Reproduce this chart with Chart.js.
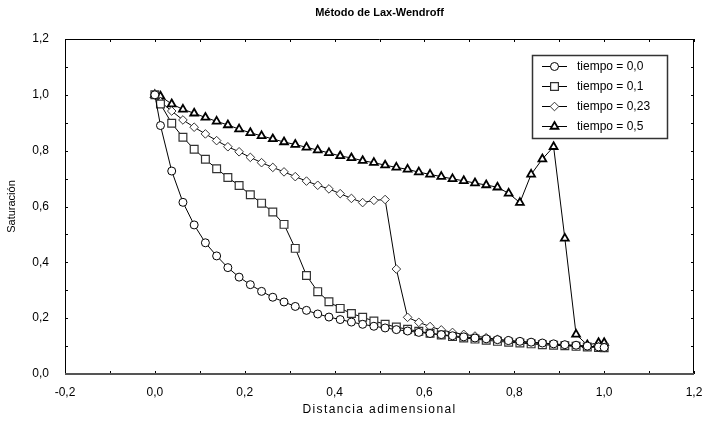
<!DOCTYPE html>
<html>
<head>
<meta charset="utf-8">
<title>Método de Lax-Wendroff</title>
<script src="https://cdn.jsdelivr.net/npm/chart.js@4.4.1/dist/chart.umd.min.js"></script>
<style>
  html, body { margin: 0; padding: 0; background: #fff; }
  #wrap { width: 708px; height: 427px; }
</style>
</head>
<body>
<div id="wrap"><canvas id="satChart" width="708" height="427"></canvas></div>
<script>
// grid nodes (boundaries + cell centres)
const xPos = [
  0, 0.0125, 0.0375, 0.0625, 0.0875, 0.1125, 0.1375, 0.1625, 0.1875, 0.2125,
  0.2375, 0.2625, 0.2875, 0.3125, 0.3375, 0.3625, 0.3875, 0.4125, 0.4375, 0.4625,
  0.4875, 0.5125, 0.5375, 0.5625, 0.5875, 0.6125, 0.6375, 0.6625, 0.6875, 0.7125,
  0.7375, 0.7625, 0.7875, 0.8125, 0.8375, 0.8625, 0.8875, 0.9125, 0.9375, 0.9625,
  0.9875, 1.0
];

const sat00 = [
  1.0, 0.890, 0.727, 0.615, 0.534, 0.470, 0.423, 0.381, 0.347, 0.320,
  0.296, 0.275, 0.258, 0.242, 0.228, 0.215, 0.204, 0.195, 0.186, 0.178,
  0.171, 0.165, 0.159, 0.154, 0.149, 0.145, 0.141, 0.137, 0.133, 0.129,
  0.126, 0.123, 0.120, 0.117, 0.114, 0.111, 0.108, 0.105, 0.103, 0.100,
  0.097, 0.095
];

const sat01 = [
  1.0, 0.967, 0.898, 0.848, 0.805, 0.769, 0.735, 0.704, 0.675, 0.642,
  0.612, 0.580, 0.536, 0.450, 0.353, 0.295, 0.259, 0.235, 0.217, 0.203,
  0.190, 0.178, 0.168, 0.160, 0.153, 0.146, 0.140, 0.134, 0.129, 0.125,
  0.121, 0.117, 0.114, 0.111, 0.108, 0.105, 0.103, 0.101, 0.099, 0.097,
  0.095, 0.094
];

const sat023 = [
  1.0, 0.975, 0.942, 0.910, 0.884, 0.860, 0.836, 0.814, 0.796, 0.776,
  0.757, 0.740, 0.724, 0.707, 0.691, 0.676, 0.663, 0.646, 0.629, 0.614,
  0.622, 0.625, 0.376, 0.203, 0.185, 0.170, 0.158, 0.149, 0.142, 0.136,
  0.130, 0.124, 0.119, 0.115, 0.112, 0.109, 0.106, 0.103, 0.101, 0.099,
  0.097, 0.095
];

const sat05 = [
  1.0, 0.995, 0.967, 0.948, 0.934, 0.919, 0.905, 0.892, 0.877, 0.864,
  0.853, 0.842, 0.831, 0.822, 0.812, 0.802, 0.792, 0.781, 0.774, 0.764,
  0.757, 0.748, 0.740, 0.733, 0.723, 0.715, 0.707, 0.699, 0.692, 0.684,
  0.677, 0.669, 0.647, 0.614, 0.715, 0.770, 0.814, 0.486, 0.142, 0.104,
  0.112, 0.112
];

const seriesLabels = ["tiempo = 0,0", "tiempo = 0,1", "tiempo = 0,23", "tiempo = 0,5"];
const seriesValues = [sat00, sat01, sat023, sat05];

const chartTitle = "Método de Lax-Wendroff";
const xTitle = "Distancia adimensional";
const yTitle = "Saturación";

const FONT = "'Liberation Sans', Arial, sans-serif";

const markers = [
  { pointStyle: "circle",   radius: 4,   borderWidth: 1,   color: "#000" },
  { pointStyle: "rect",     radius: 5.5, borderWidth: 1.2, color: "#333" },
  { pointStyle: "rectRot",  radius: 4.3, borderWidth: 1,   color: "#333" },
  { pointStyle: "triangle", radius: 4.5, borderWidth: 1.8, color: "#000" }
];

const datasets = seriesValues.map((vals, i) => ({
  label: seriesLabels[i],
  data: xPos.map((x, k) => ({ x, y: vals[k] })),
  borderColor: "#000",
  borderWidth: 1,
  backgroundColor: "#fff",
  pointStyle: markers[i].pointStyle,
  pointRadius: markers[i].radius,
  pointHoverRadius: markers[i].radius,
  pointBorderWidth: markers[i].borderWidth,
  pointBorderColor: markers[i].color,
  pointBackgroundColor: "#fff",
  tension: 0,
  clip: 8
}));

const fmt = v => (Math.round(v * 10) / 10).toFixed(1).replace(".", ",");

// frame with inward ticks on all four sides, titles and the boxed legend
const framePlugin = {
  id: "frame",
  beforeDatasetsDraw(chart) {
    const { ctx, chartArea: a, scales: { x, y } } = chart;
    ctx.save();
    ctx.strokeStyle = "#000";
    ctx.lineWidth = 1;
    ctx.beginPath();
    for (let v = -0.2; v <= 1.2001; v += 0.1) {
      const px = Math.round(x.getPixelForValue(v)) + 0.5;
      ctx.moveTo(px, a.bottom); ctx.lineTo(px, a.bottom - 3);
      ctx.moveTo(px, a.top); ctx.lineTo(px, a.top + 3);
    }
    for (let v = 0; v <= 1.2001; v += 0.1) {
      const py = Math.round(y.getPixelForValue(v)) + 0.5;
      ctx.moveTo(a.left, py); ctx.lineTo(a.left + 3, py);
      ctx.moveTo(a.right, py); ctx.lineTo(a.right - 3, py);
    }
    ctx.stroke();
    ctx.beginPath();
    ctx.moveTo(a.left + 0.5, a.bottom); ctx.lineTo(a.left + 0.5, a.top + 0.5);
    ctx.lineTo(a.right - 0.5, a.top + 0.5); ctx.lineTo(a.right - 0.5, a.bottom);
    ctx.stroke();
    ctx.strokeStyle = "#555";
    ctx.lineWidth = 2;
    ctx.beginPath();
    ctx.moveTo(a.left, a.bottom); ctx.lineTo(a.right, a.bottom);
    ctx.stroke();
    ctx.restore();
  },
  afterDraw(chart) {
    const { ctx, chartArea: a } = chart;
    ctx.save();
    ctx.fillStyle = "#000";
    ctx.textAlign = "center";
    ctx.textBaseline = "middle";

    ctx.font = "bold 11px " + FONT;
    ctx.fillText(chartTitle, (a.left + a.right) / 2, 13);

    ctx.font = "12px " + FONT;
    ctx.letterSpacing = "1.4px";
    ctx.fillText(xTitle, (a.left + a.right) / 2, 410);
    ctx.letterSpacing = "0px";
    ctx.font = "11px " + FONT;
    ctx.translate(12, (a.top + a.bottom) / 2);
    ctx.rotate(-Math.PI / 2);
    ctx.fillText(yTitle, 0, 0);
    ctx.restore();

    // legend box
    ctx.save();
    const bx = 532, by = 55, bw = 135, bh = 83;
    ctx.fillStyle = "#fff";
    ctx.fillRect(bx, by, bw, bh);
    ctx.strokeStyle = "#333";
    ctx.lineWidth = 1.5;
    ctx.strokeRect(bx + 0.5, by + 0.5, bw, bh);
    ctx.font = "12px " + FONT;
    ctx.textBaseline = "middle";
    ctx.textAlign = "left";
    seriesLabels.forEach((label, i) => {
      const ry = by + 11 + i * 20;
      ctx.strokeStyle = "#000";
      ctx.lineWidth = 1;
      ctx.beginPath();
      ctx.moveTo(542, ry + 0.5); ctx.lineTo(567, ry + 0.5);
      ctx.stroke();
      const m = markers[i];
      ctx.fillStyle = "#fff";
      ctx.strokeStyle = m.color;
      ctx.lineWidth = m.borderWidth;
      Chart.helpers.drawPoint(ctx, {
        pointStyle: m.pointStyle, radius: m.radius, rotation: 0, borderWidth: m.borderWidth
      }, 554.5, ry + 0.5);
      ctx.fillStyle = "#000";
      ctx.fillText(label, 577, ry + 1);
    });
    ctx.restore();
  }
};

new Chart(document.getElementById("satChart"), {
  type: "line",
  data: { datasets },
  options: {
    responsive: false,
    animation: false,
    layout: { padding: { top: 39, right: 14, left: 0, bottom: 0 } },
    plugins: {
      legend: { display: false },
      title: { display: false },
      tooltip: { enabled: false }
    },
    scales: {
      x: {
        type: "linear",
        min: -0.2,
        max: 1.2,
        grid: { display: false },
        border: { display: false },
        ticks: {
          stepSize: 0.2,
          autoSkip: false,
          maxRotation: 0,
          padding: 3,
          color: "#000",
          font: { family: FONT, size: 12 },
          callback: v => fmt(v)
        },
        afterFit(scale) { scale.height = 53; }
      },
      y: {
        min: 0,
        max: 1.2,
        grid: { display: false },
        border: { display: false },
        ticks: {
          stepSize: 0.2,
          padding: 8,
          color: "#000",
          font: { family: FONT, size: 12 },
          callback: v => fmt(v)
        },
        afterFit(scale) { scale.width = 65; }
      }
    }
  },
  plugins: [framePlugin]
});
</script>
</body>
</html>
